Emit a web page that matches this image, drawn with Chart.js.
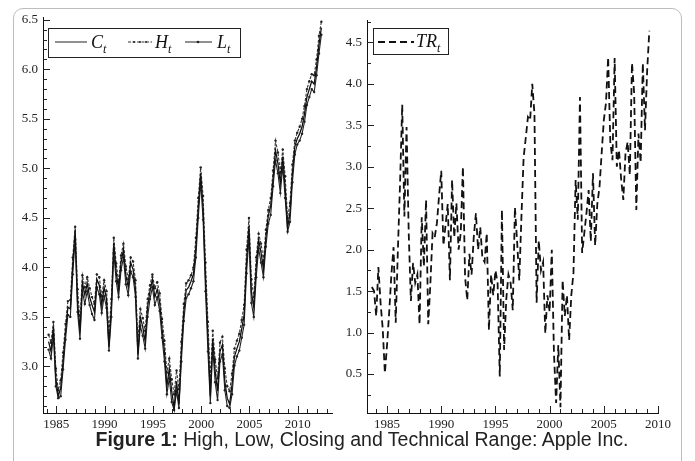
<!DOCTYPE html>
<html>
<head>
<meta charset="utf-8">
<script src="https://cdn.jsdelivr.net/npm/chart.js@4.4.1/dist/chart.umd.min.js"></script>
<style>
  html, body { margin: 0; padding: 0; background: #fff; }
  body { width: 695px; height: 461px; position: relative; overflow: hidden; }
  .frame { position: absolute; left: 13px; top: 8px; width: 669px; height: 470px; border: 1px solid #bdbdbd; border-radius: 10px; box-sizing: border-box; }
  canvas { position: absolute; }
  .leg { position: absolute; border: 1px solid #222; box-sizing: border-box; font-family: "Liberation Serif", "Times New Roman", serif; color: #111; }
  .leg svg, .leg span { position: absolute; }
  .leg span { font-style: italic; font-size: 18px; line-height: 18px; }
  .leg sub { font-size: 12px; vertical-align: -5px; }
  .caption { position: absolute; left: 0; width: 724px; top: 428px; text-align: center; font-family: "Liberation Sans", Arial, sans-serif; font-size: 19.5px; color: #222; }
</style>
</head>
<body>
<div class="frame"></div>
<canvas id="left" width="335" height="430" style="left:5px;top:5px"></canvas>
<canvas id="right" width="350" height="430" style="left:330px;top:5px"></canvas>

<div class="leg" style="left:48px;top:28px;width:193px;height:30px">
  <svg style="left:6px;top:10px" width="32" height="6"><line x1="0" y1="3" x2="32" y2="3" stroke="#222" stroke-width="1"/></svg>
  <span style="left:42px;top:4px">C<sub>t</sub></span>
  <svg style="left:79px;top:10px" width="24" height="6"><line x1="0" y1="3" x2="24" y2="3" stroke="#333" stroke-width="1" stroke-dasharray="3,1.5"/><circle cx="6" cy="3" r="1" fill="#222"/><circle cx="12" cy="3" r="1" fill="#222"/><circle cx="18" cy="3" r="1" fill="#222"/></svg>
  <span style="left:106px;top:4px">H<sub>t</sub></span>
  <svg style="left:136px;top:10px" width="27" height="6"><line x1="0" y1="3" x2="27" y2="3" stroke="#222" stroke-width="1"/><circle cx="13" cy="3" r="1.3" fill="#222"/></svg>
  <span style="left:168px;top:4px">L<sub>t</sub></span>
</div>

<div class="leg" style="left:373px;top:28px;width:76px;height:27px">
  <svg style="left:4px;top:10px" width="36" height="6"><line x1="0" y1="3" x2="36" y2="3" stroke="#111" stroke-width="1.8" stroke-dasharray="7,4"/></svg>
  <span style="left:42px;top:3px">TR<sub>t</sub></span>
</div>

<div class="caption"><b>Figure 1:</b> High, Low, Closing and Technical Range: Apple Inc.</div>

<script>
// left panel: quarterly points from 1984.2
const leftStart = 1984.2;
const leftStep = 0.25;

const closeVals = [3.25,3.15,3.40,2.88,2.70,2.78,3.05,3.35,3.60,3.58,
  4.02,4.38,3.65,3.35,3.85,3.72,3.84,3.70,3.62,3.55,
  3.88,3.82,3.62,3.80,3.68,3.20,3.60,4.25,3.95,3.78,
  4.05,4.18,3.92,3.80,4.05,3.98,3.78,3.12,3.50,3.40,
  3.25,3.60,3.76,3.88,3.70,3.78,3.65,3.38,3.15,2.80,
  2.98,2.75,2.58,2.85,2.62,3.15,3.55,3.77,3.80,3.86,
  3.93,4.20,4.60,4.95,4.60,3.90,3.30,2.70,3.28,2.95,
  2.75,3.15,3.22,2.85,2.68,2.62,2.82,3.10,3.18,3.25,
  3.38,3.52,4.05,4.42,3.75,3.60,4.00,4.28,4.15,3.98,
  4.30,4.52,4.62,4.90,5.18,5.05,4.85,5.12,4.80,4.40,
  4.55,4.95,5.22,5.30,5.35,5.42,5.55,5.72,5.80,5.88,
  5.85,6.02,6.25,6.42];

const highVals = [3.32,3.24,3.45,2.98,2.76,2.86,3.14,3.43,3.66,3.67,
  4.10,4.41,3.78,3.46,3.92,3.80,3.90,3.79,3.70,3.63,
  3.93,3.90,3.71,3.87,3.76,3.34,3.68,4.30,4.04,3.85,
  4.12,4.24,4.01,3.88,4.10,4.06,3.87,3.26,3.58,3.49,
  3.36,3.68,3.82,3.93,3.79,3.85,3.74,3.48,3.26,2.94,
  3.08,2.87,2.72,2.96,2.77,3.25,3.63,3.84,3.87,3.92,
  4.00,4.30,4.70,5.01,4.72,4.05,3.45,2.86,3.36,3.07,
  2.88,3.24,3.30,2.98,2.80,2.75,2.93,3.18,3.26,3.33,
  3.47,3.62,4.18,4.50,3.88,3.70,4.10,4.34,4.24,4.07,
  4.38,4.58,4.70,4.98,5.28,5.16,4.96,5.19,4.92,4.50,
  4.65,5.04,5.28,5.36,5.42,5.50,5.63,5.80,5.88,5.95,
  5.94,6.10,6.34,6.48];

const lowVals = [3.17,3.08,3.31,2.80,2.68,2.70,2.97,3.27,3.52,3.50,
  3.93,4.28,3.55,3.28,3.76,3.63,3.76,3.62,3.53,3.47,
  3.80,3.73,3.54,3.71,3.59,3.16,3.50,4.15,3.86,3.70,
  3.97,4.10,3.83,3.72,3.96,3.90,3.70,3.08,3.41,3.31,
  3.18,3.50,3.68,3.80,3.62,3.70,3.56,3.29,3.05,2.72,
  2.88,2.64,2.56,2.75,2.58,3.05,3.46,3.69,3.73,3.79,
  3.86,4.10,4.50,4.86,4.48,3.76,3.15,2.63,3.18,2.84,
  2.66,3.05,3.12,2.76,2.60,2.58,2.72,3.01,3.10,3.16,
  3.29,3.42,3.94,4.30,3.64,3.50,3.90,4.19,4.05,3.90,
  4.21,4.44,4.53,4.82,5.08,4.95,4.75,5.02,4.70,4.36,
  4.46,4.86,5.14,5.24,5.28,5.35,5.47,5.64,5.72,5.80,
  5.77,5.94,6.16,6.35];

// right panel: technical range, points every 0.2 year from 1983.6
const trStart = 1983.6;
const trStep = 0.2;
const trVals = [1.55,1.50,1.20,1.79,1.36,1.05,0.51,0.85,1.25,1.70,
  2.03,1.12,2.00,2.80,3.75,2.40,3.48,2.20,1.38,1.84,
  1.60,1.70,1.10,2.39,1.80,2.60,1.10,1.60,2.20,2.15,
  2.32,2.65,2.95,2.05,2.30,2.55,1.63,2.84,2.15,2.56,
  2.00,2.20,3.00,1.67,1.39,1.95,1.70,2.15,2.44,2.00,
  2.27,1.90,1.85,2.20,1.03,1.70,1.45,1.75,1.60,0.47,
  2.48,0.79,1.40,1.70,1.60,1.27,2.51,2.10,1.63,2.40,
  3.11,3.35,3.60,3.56,4.00,3.64,1.36,2.11,1.75,1.85,
  0.99,1.45,1.25,2.00,0.75,0.15,0.85,0.10,1.63,1.20,
  1.45,0.91,1.45,1.72,2.84,2.36,3.84,1.96,2.20,2.44,
  2.72,2.10,2.92,2.05,2.55,2.75,3.16,3.56,3.77,4.32,
  3.30,3.08,4.31,3.00,3.20,2.85,2.60,3.16,3.30,2.90,
  4.25,3.89,2.48,3.40,3.05,4.25,3.44,4.16,4.64];

const leftYTicks = [3.0, 3.5, 4.0, 4.5, 5.0, 5.5, 6.0, 6.5];
const rightYTicks = [0.5, 1.0, 1.5, 2.0, 2.5, 3.0, 3.5, 4.0, 4.5];
const yearTicks = [1985, 1990, 1995, 2000, 2005, 2010];

const toPoints = (vals, start, step) => vals.map((v, i) => ({ x: start + i * step, y: v }));

const tickFont = { family: "'Liberation Serif', 'Times New Roman', serif", size: 13 };

// ticks point into the plot, longer at labelled values
const innerTicks = {
  id: 'innerTicks',
  afterDatasetsDraw(chart) {
    const { ctx, scales: { x, y }, chartArea: a } = chart;
    ctx.save();
    ctx.strokeStyle = '#222';
    ctx.lineWidth = 1;
    x.ticks.forEach(t => {
      const p = Math.round(x.getPixelForValue(t.value)) + 0.5;
      const len = t.label ? 7 : 4;
      ctx.beginPath(); ctx.moveTo(p, a.bottom); ctx.lineTo(p, a.bottom - len); ctx.stroke();
    });
    y.ticks.forEach(t => {
      const p = Math.round(y.getPixelForValue(t.value)) + 0.5;
      const len = t.label ? 7 : 4;
      ctx.beginPath(); ctx.moveTo(a.left, p); ctx.lineTo(a.left + len, p); ctx.stroke();
    });
    ctx.restore();
  }
};

function axes(xmin, xmax, ymin, ymax, ystep, ylabels) {
  return {
    x: {
      type: 'linear', min: xmin, max: xmax,
      grid: { display: false, drawTicks: false },
      border: { display: true, color: '#111', width: 1 },
      afterFit: s => { s.height = 22; },
      ticks: {
        stepSize: 1, autoSkip: false, maxRotation: 0, includeBounds: false,
        padding: 4, color: '#222', font: tickFont,
        callback: v => yearTicks.includes(Math.round(v)) && Math.abs(v - Math.round(v)) < 1e-6 ? String(Math.round(v)) : ''
      }
    },
    y: {
      type: 'linear', min: ymin, max: ymax,
      grid: { display: false, drawTicks: false },
      border: { display: true, color: '#111', width: 1 },
      afterFit: s => { s.width = 33; },
      ticks: {
        stepSize: ystep, autoSkip: false, includeBounds: false,
        padding: 5, color: '#222', font: tickFont,
        callback: v => {
          const hit = ylabels.find(l => Math.abs(l - v) < 1e-6);
          return hit !== undefined ? hit.toFixed(1) : '';
        }
      }
    }
  };
}

const common = {
  responsive: false,
  animation: false,
  plugins: { legend: { display: false }, tooltip: { enabled: false } }
};

new Chart(document.getElementById('left'), {
  type: 'line',
  data: {
    datasets: [
      { label: 'C', data: toPoints(closeVals, leftStart, leftStep), borderColor: '#111', borderWidth: 1.3, pointRadius: 0, tension: 0 },
      { label: 'H', data: toPoints(highVals, leftStart, leftStep), borderColor: '#333', borderWidth: 1.1, borderDash: [3, 1.5], pointRadius: 1.2, pointBackgroundColor: '#222', pointBorderWidth: 0, tension: 0 },
      { label: 'L', data: toPoints(lowVals, leftStart, leftStep), borderColor: '#222', borderWidth: 1.1, pointRadius: 1.2, pointBackgroundColor: '#222', pointBorderWidth: 0, tension: 0 }
    ]
  },
  options: Object.assign({}, common, {
    layout: { padding: { left: 5, top: 12, right: 8, bottom: 0 } },
    scales: axes(1983.62, 2013.55, 2.53, 6.52, 0.1, leftYTicks)
  }),
  plugins: [innerTicks]
});

new Chart(document.getElementById('right'), {
  type: 'line',
  data: {
    datasets: [
      { label: 'TR', data: toPoints(trVals, trStart, trStep), borderColor: '#111', borderWidth: 1.8, borderDash: [7, 4], pointRadius: 0, tension: 0 }
    ]
  },
  options: Object.assign({}, common, {
    layout: { padding: { left: 4, top: 15, right: 22, bottom: 0 } },
    scales: axes(1983.15, 2010, 0.03, 4.77, 0.25, rightYTicks)
  }),
  plugins: [innerTicks]
});
</script>
</body>
</html>
